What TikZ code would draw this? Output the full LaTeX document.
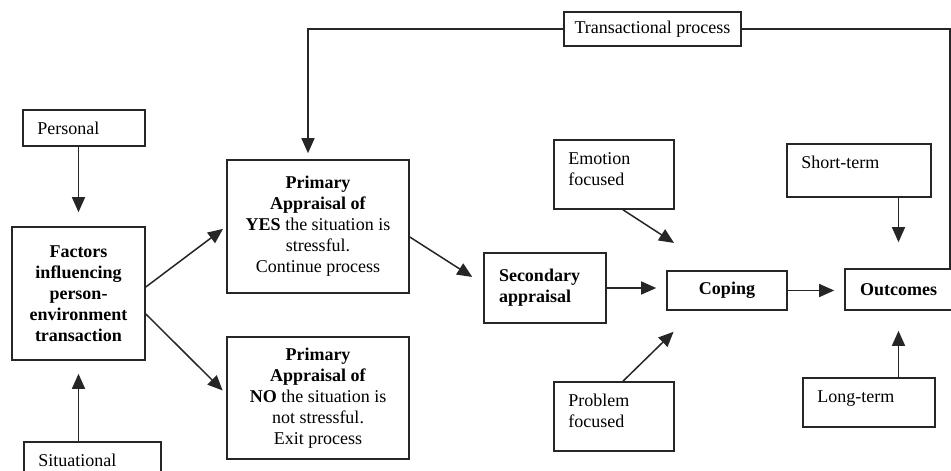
\documentclass[tikz,border=0pt]{standalone}
\usepackage{fontspec}
\setmainfont{Liberation Serif}
\usetikzlibrary{arrows.meta}

\begin{document}
\begin{tikzpicture}[x=1pt, y=-1pt, >={Triangle[length=15pt,width=13pt]},
  every node/.style={font=\fontsize{18}{21}\selectfont},
  box/.style={draw=black!85, line width=1.6pt, inner sep=0pt},
  txt/.style={anchor=north west, inner xsep=15pt, inner ysep=13pt, align=left},
  link/.style={draw=black!85, line width=1.5pt},
  arr/.style={link, ->}]

  \useasboundingbox (0,0) rectangle (951,471);
  \clip (0,0) rectangle (951,471);

  % Left column
  \node[box, minimum width=122pt, minimum height=36pt] (personal) at (84,128) {};
  \node[txt] (personaltxt) at (personal.north west) {Personal};
  \node[box, minimum width=133pt, minimum height=133pt, align=center] (factors) at (78.5,293.5)
    {\textbf{Factors}\\\textbf{influencing}\\\textbf{person-}\\\textbf{environment}\\\textbf{transaction}};
  \node[box, minimum width=137pt, minimum height=36pt] (situational) at (92.5,460) {};
  \node[txt] (situationaltxt) at (situational.north west) {Situational};

  % Primary appraisal
  \node[box, minimum width=182pt, minimum height=133pt, align=center] (yes) at (318,226.5)
    {\textbf{Primary}\\\textbf{Appraisal of}\\\textbf{YES} the situation is\\stressful.\\Continue process};
  \node[box, minimum width=182pt, minimum height=122pt, align=center] (no) at (318,398)
    {\textbf{Primary}\\\textbf{Appraisal of}\\\textbf{NO} the situation is\\not stressful.\\Exit process};

  % Secondary appraisal and coping
  \node[box, minimum width=122pt, minimum height=70pt, inner xsep=15pt, text width=92pt, align=left] (second) at (545,288)
    {\textbf{Secondary}\\\textbf{appraisal}};
  \node[box, minimum width=120pt, minimum height=69pt] (emotion) at (614,174.5) {};
  \node[txt] (emotiontxt) at (emotion.north west) {Emotion\\focused};
  \node[box, minimum width=120pt, minimum height=69pt] (problem) at (614,416.5) {};
  \node[txt] (problemtxt) at (problem.north west) {Problem\\focused};
  \node[box, minimum width=120pt, minimum height=39pt] (coping) at (727,290.5) {\textbf{Coping}};

  % Outcomes
  \node[box, minimum width=107pt, minimum height=41pt] (outcomes) at (898.5,289.5) {\textbf{Outcomes}};
  \node[box, minimum width=144pt, minimum height=53pt] (short) at (859,170.5) {};
  \node[txt] (shorttxt) at (short.north west) {Short-term};
  \node[box, minimum width=132pt, minimum height=49pt] (long) at (869,402.5) {};
  \node[txt] (longtxt) at (long.north west) {Long-term};

  \node[box, minimum width=177pt, minimum height=34pt] (trans) at (652.5,29) {Transactional process};

  % Arrows
  \draw[arr, shorten >=14pt] (personal.south -| factors.north) -- (factors.north);
  \draw[arr, shorten >=13pt] (situational.north -| factors.south) -- (factors.south);
  \draw[arr, shorten >=4pt] ([yshift=6.5pt]factors.east) -- (yes.west);
  \draw[arr, shorten >=5pt] ([yshift=-20.5pt]factors.east) -- ([yshift=4pt]no.west);
  \draw[arr, shorten >=13pt] ([yshift=-10.5pt]yes.east) -- ([yshift=4pt]second.west);
  \draw[arr, shorten >=10pt] (second.east) -- (second.east -| coping.west);
  \draw[arr, shorten >=50pt] ([xshift=9pt]emotion.south) -- ([xshift=-11pt]coping.north);
  \draw[arr, shorten >=30pt] ([xshift=9pt]problem.north) -- ([xshift=-32pt]coping.south);
  \draw[arr, shorten >=10pt] (coping.east) -- (coping.east -| outcomes.west);
  \draw[arr, shorten >=26pt] (short.south -| outcomes.north) -- (outcomes.north);
  \draw[arr, shorten >=20pt] (long.north -| outcomes.south) -- (outcomes.south);

  % Feedback loop
  \draw[link] ([xshift=51.5pt]outcomes.north) |- (trans.east);
  \draw[arr, shorten >=6pt] (trans.west) -| ([xshift=-10pt]yes.north);

\end{tikzpicture}
\end{document}
